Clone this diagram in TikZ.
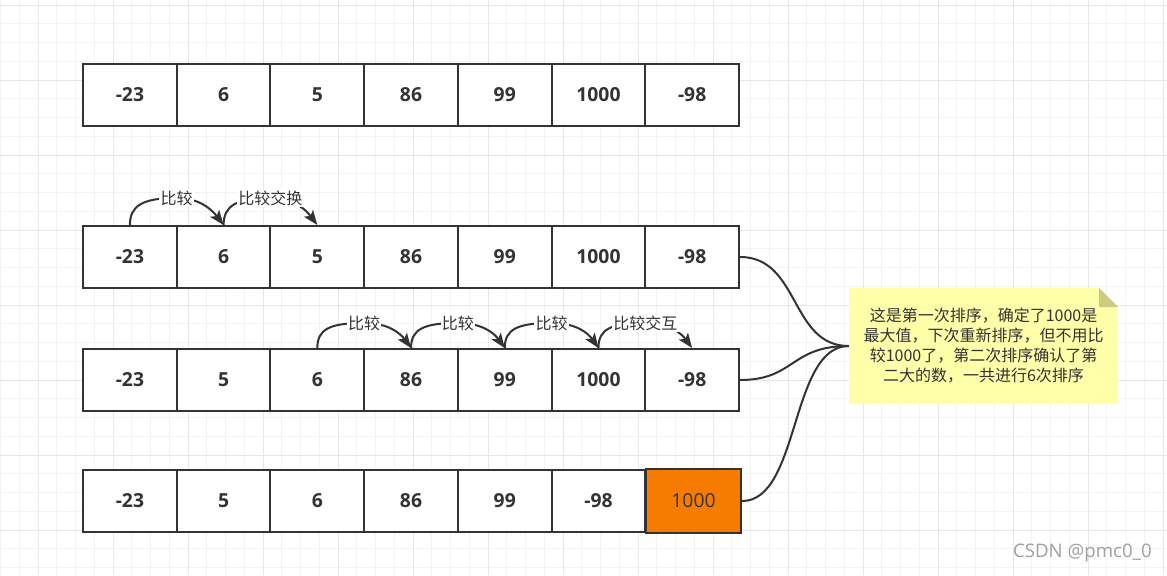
\documentclass[tikz,border=0pt]{standalone}
\usepackage{fontspec}
\setmainfont{Open Sans}
\newfontfamily\cjk{Noto Sans CJK SC}
\usetikzlibrary{arrows.meta}
\definecolor{ink}{HTML}{333333}
\definecolor{gridmin}{HTML}{F3F3F3}
\definecolor{gridmaj}{HTML}{E6E6E6}
\definecolor{notefill}{HTML}{FFFFAA}
\definecolor{notefold}{HTML}{CCCC80}
\definecolor{hot}{HTML}{F57C00}
\definecolor{wmgray}{HTML}{A0A0A0}
\begin{document}
\begin{tikzpicture}[x=0.75pt,y=-0.75pt,
  cell/.style={draw=ink, fill=white, line width=1.5pt, minimum width=70.3pt, minimum height=46.5pt, inner sep=0pt, font=\fontsize{14.5}{17}\selectfont\bfseries, text=ink},
  lbl/.style={fill=white, inner sep=1pt, font=\cjk\fontsize{12}{14}\selectfont, text=ink},
  arc/.style={draw=ink, line width=1.5pt, -{Stealth[length=11pt,width=8.5pt,inset=2.5pt]}},
  link/.style={draw=ink, line width=1.5pt},
  gmin/.style={draw=gridmin, line width=0.75pt},
  gmaj/.style={draw=gridmaj, line width=0.75pt},
]
\useasboundingbox (0,0) rectangle (1167,575);
\fill[white] (0,0) rectangle (1167,575);
% grid
\foreach \i in {0,...,62} { \draw[gmin] ({0.5+18.75*\i},0) -- ({0.5+18.75*\i},575); }
\foreach \j in {0,...,30} { \draw[gmin] (0,{5+18.75*\j}) -- (1167,{5+18.75*\j}); }
\foreach \i in {0,...,15} { \draw[gmaj] ({38+75*\i},0) -- ({38+75*\i},575); }
\foreach \j in {0,...,7} { \draw[gmaj] (0,{5+75*\j}) -- (1167,{5+75*\j}); }

% rows of cells
\foreach \t [count=\k] in {-23,6,5,86,99,1000,-98}
  \node[cell] (r1c\k) at ({129.9+93.71*(\k-1)},95) {\t};
\foreach \t [count=\k] in {-23,6,5,86,99,1000,-98}
  \node[cell] (r2c\k) at ({129.9+93.71*(\k-1)},257) {\t};
\foreach \t [count=\k] in {-23,5,6,86,99,1000,-98}
  \node[cell] (r3c\k) at ({129.9+93.71*(\k-1)},380) {\t};
\foreach \t [count=\k] in {-23,5,6,86,99,-98}
  \node[cell] (r4c\k) at ({129.9+93.71*(\k-1)},501) {\t};
\node[cell, fill=hot, minimum width=71.5pt, minimum height=48pt, font=\fontsize{14.5}{17}\selectfont] (r4c7) at (693.5,501) {1000};

% comparison arcs, row 2
\draw[arc] (r2c1.north) .. controls (129.9,206) and (142,198) .. (176.7,198) node[lbl] (l21) {比较}
  .. controls (200,198) and (212,210) .. (r2c2.north);
\draw[arc] (r2c2.north) .. controls (223.6,206) and (236,198) .. (270.4,198) node[lbl] (l22) {比较交换}
  .. controls (294,198) and (306,210) .. (r2c3.north);

% comparison arcs, row 3
\draw[arc] (r3c3.north) .. controls (317.3,329) and (330,323) .. (364.1,323) node[lbl] (l31) {比较}
  .. controls (388,323) and (400,333) .. (r3c4.north);
\draw[arc] (r3c4.north) .. controls (411,329) and (424,323) .. (457.9,323) node[lbl] (l32) {比较}
  .. controls (482,323) and (494,333) .. (r3c5.north);
\draw[arc] (r3c5.north) .. controls (504.7,329) and (518,323) .. (551.6,323) node[lbl] (l33) {比较}
  .. controls (576,323) and (588,333) .. (r3c6.north);
\draw[arc] (r3c6.north) .. controls (598.4,329) and (611,323) .. (645.3,323) node[lbl] (l34) {比较交互}
  .. controls (669,323) and (681,333) .. (r3c7.north);

% note
\fill[notefill] (849,288) -- (1099,288) -- (1118,307) -- (1118,404) -- (849,404) -- cycle;
\fill[notefold] (1099,288) -- (1118,307) -- (1099,307) -- cycle;
\node[align=center, text=ink, font=\cjk\fontsize{12}{15}\selectfont, minimum width=201.75pt, minimum height=87pt, inner sep=0pt] (note) at (983.5,346)
  {这是第一次排序，确定了1000是\\最大值，下次重新排序，但不用比\\较1000了，第二次排序确认了第\\二大的数，一共进行6次排序};

% connectors to the note
\draw[link] (r2c7.east) .. controls (800,257) and (790,346) .. (note.west);
\draw[link] (r3c7.east) .. controls (795,380) and (790,346) .. (note.west);
\draw[link] (r4c7.east) .. controls (800,501) and (790,346) .. (note.west);

% watermark
\node[text=wmgray, font=\fontsize{14}{16}\selectfont, anchor=east, inner sep=0pt] (wm) at (1152,553) {CSDN @pmc0\_0};
\end{tikzpicture}
\end{document}
